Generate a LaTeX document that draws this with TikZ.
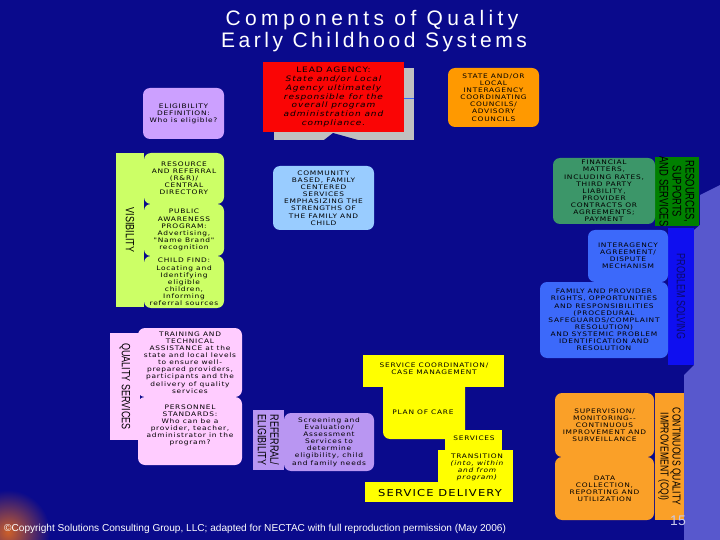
\documentclass[tikz,border=0pt]{standalone}
\usepackage{fontspec}
\setmainfont{Liberation Sans}
\newfontfamily\bxfont[FakeStretch=1.2,LetterSpace=12]{DejaVu Sans}
\newfontfamily\stripfont[FakeStretch=0.75]{Liberation Sans}
\newfontfamily\titlefont[LetterSpace=17]{Liberation Sans}
\newfontfamily\titlefontb[LetterSpace=21]{Liberation Sans}
\definecolor{bgc}{RGB}{10,10,140}
\definecolor{lightbg}{RGB}{88,88,205}
\definecolor{redc}{RGB}{250,5,5}
\definecolor{greyc}{RGB}{192,192,192}
\definecolor{orangec}{RGB}{255,153,0}
\definecolor{lavc}{RGB}{204,160,255}
\definecolor{limec}{RGB}{204,255,102}
\definecolor{skyc}{RGB}{153,204,255}
\definecolor{greenc}{RGB}{60,150,105}
\definecolor{dgreenc}{RGB}{0,128,0}
\definecolor{bluec}{RGB}{60,105,250}
\definecolor{bstripc}{RGB}{15,15,240}
\definecolor{pinkc}{RGB}{255,204,255}
\definecolor{refc}{RGB}{185,150,242}
\definecolor{yelc}{RGB}{255,255,0}
\definecolor{cqic}{RGB}{250,160,40}
\definecolor{numc}{RGB}{200,200,235}
\tikzset{
  box/.style={rounded corners=7pt, inner sep=0pt, align=center, text=black,
    font=\bxfont\fontsize{6.2}{7.1}\selectfont},
  band/.style={inner sep=0pt, align=center, text=black, rotate=-90,
    font=\stripfont\fontsize{12}{12.5}\selectfont},
  ybox/.style={inner sep=0pt, fill=yelc, align=center, text=black},
  ytext/.style={inner sep=0pt, align=center, text=black,
    font=\bxfont\fontsize{6.2}{7}\selectfont}
}
\begin{document}
\begin{tikzpicture}[x=1pt,y=-1pt]
\useasboundingbox (0,0) rectangle (720,540);
\fill[bgc] (0,0) rectangle (720,540);
% lighter background areas
\fill[lightbg] (700,195) -- (720,185) -- (720,540) -- (684,540) -- (684,375) -- (694,365) -- (694,230) -- (700,225) -- cycle;
\shade[inner color={rgb,255:red,205;green,95;blue,40}, outer color=bgc] (8,532) circle (42);
\fill[bgc] (50,490) rectangle (60,540);

% title
\node[text=white, font=\titlefontb\fontsize{21}{24}\selectfont, inner sep=0pt] (t1) at (372,20) {Components of Quality};
\node[text=white, font=\titlefont\fontsize{21}{24}\selectfont, inner sep=0pt] (t2) at (374,42) {Early Childhood Systems};

% lead agency
\node[fill=greyc, inner sep=0pt, minimum width=140pt, minimum height=72pt] (leadsh) at (344,104) {};
\draw[bluec, line width=0.8pt] (404,98) -- (414,98);
\fill[bgc] (333,133) -- (324,140) -- (358,140) -- cycle;
\node[fill=redc, inner sep=0pt, minimum width=141pt, minimum height=70pt, align=center, text=black,
  font=\bxfont\fontsize{7.5}{8.9}\selectfont] (lead) at (333.5,97)
  {LEAD AGENCY:\\ \itshape State and/or Local\\ \itshape Agency ultimately\\ \itshape responsible for the\\ \itshape overall program\\ \itshape administration and\\ \itshape compliance.};

\node[box, fill=orangec, minimum width=91pt, minimum height=59pt] (state) at (493.5,97.5)
  {STATE AND/OR\\LOCAL\\INTERAGENCY\\COORDINATING\\COUNCILS/\\ADVISORY\\COUNCILS};

\node[box, fill=lavc, minimum width=81pt, minimum height=51pt] (elig) at (183.5,113.5)
  {ELIGIBILITY\\DEFINITION:\\Who is eligible?};

% visibility
\node[band, fill=limec, minimum width=154pt, minimum height=28pt] (vis) at (130,230) {VISIBILITY};
\node[box, fill=limec, minimum width=80pt, minimum height=51pt] (rr) at (184,178.5)
  {RESOURCE\\AND REFERRAL\\(R\&R)/\\CENTRAL\\DIRECTORY};
\node[box, fill=limec, minimum width=80pt, minimum height=52pt] (pub) at (184,230)
  {PUBLIC\\AWARENESS\\PROGRAM:\\Advertising,\\"Name Brand"\\recognition};
\node[box, fill=limec, minimum width=80pt, minimum height=52pt] (cf) at (184,282)
  {CHILD FIND:\\Locating and\\Identifying\\eligible\\children,\\Informing\\referral sources};

\node[box, fill=skyc, minimum width=101pt, minimum height=64pt] (comm) at (323.5,198)
  {COMMUNITY\\BASED, FAMILY\\CENTERED\\SERVICES\\EMPHASIZING THE\\STRENGTHS OF\\THE FAMILY AND\\CHILD};

% resources
\node[band, fill=dgreenc, minimum width=67pt, minimum height=44pt, font=\stripfont\fontsize{12.5}{13}\selectfont] (rss) at (677,191.5)
  {RESOURCES,\\SUPPORTS\\AND SERVICES};
\node[box, fill=greenc, minimum width=102pt, minimum height=66pt] (fin) at (604,191)
  {FINANCIAL\\MATTERS,\\INCLUDING RATES,\\THIRD PARTY\\LIABILITY,\\PROVIDER\\CONTRACTS OR\\AGREEMENTS;\\PAYMENT};

% problem solving
\node[band, fill=bstripc, minimum width=137pt, minimum height=26pt, text={rgb,255:red,10;green,10;blue,110}] (ps) at (681,296.5) {PROBLEM SOLVING};
\node[box, fill=bluec, minimum width=80pt, minimum height=52pt] (inter) at (628,256)
  {INTERAGENCY\\AGREEMENT/\\DISPUTE\\MECHANISM};
\node[box, fill=bluec, minimum width=128pt, minimum height=76pt] (fam) at (604,320)
  {FAMILY AND PROVIDER\\RIGHTS, OPPORTUNITIES\\AND RESPONSIBILITIES\\(PROCEDURAL\\SAFEGUARDS/COMPLAINT\\RESOLUTION)\\AND SYSTEMIC PROBLEM\\IDENTIFICATION AND\\RESOLUTION};

% quality services
\node[band, fill=pinkc, minimum width=107pt, minimum height=30pt] (qs) at (125,386.5) {QUALITY SERVICES};
\node[box, fill=pinkc, minimum width=104pt, minimum height=69pt] (train) at (190,362.5)
  {TRAINING AND\\TECHNICAL\\ASSISTANCE at the\\state and local levels\\to ensure well-\\prepared providers,\\participants and the\\delivery of quality\\services};
\node[box, fill=pinkc, minimum width=104pt, minimum height=68pt] (pers) at (190,431)
  {PERSONNEL\\STANDARDS:\\Who can be a\\provider, teacher,\\administrator in the\\program?\\[6pt]};

% referral
\node[band, fill=refc, minimum width=60pt, minimum height=31pt] (ref) at (268.5,440) {REFERRAL/\\ELIGIBILITY};
\node[box, fill=refc, minimum width=90pt, minimum height=58pt] (scr) at (329,442)
  {Screening and\\Evaluation/\\Assessment\\Services to\\determine\\eligibility, child\\and family needs};

% service delivery (yellow)
\node[ybox, minimum width=141pt, minimum height=32pt] (sc) at (433.5,371) {};
\node[ybox, rounded corners=7pt, minimum width=82pt, minimum height=61pt] (poc) at (424,408.5) {};
\node[ybox, minimum width=57pt, minimum height=25pt] (serv) at (473.5,442.5) {};
\node[ybox, minimum width=75pt, minimum height=35pt] (trans) at (475.5,467.5) {};
\node[ybox, minimum width=148pt, minimum height=20pt] (sd) at (439,492) {};
\node[ytext] (sct) at (434,369) {SERVICE COORDINATION/\\CASE MANAGEMENT};
\node[ytext] (poct) at (423,412) {PLAN OF CARE};
\node[ytext] (servt) at (474,438) {SERVICES};
\node[ytext] (transt) at (477,467) {TRANSITION\\\itshape (into, within\\\itshape and from\\\itshape program)};
\node[ytext, font=\bxfont\fontsize{9.6}{10}\selectfont] (sdt) at (440,493) {SERVICE DELIVERY};

% CQI
\node[band, fill=cqic, minimum width=127pt, minimum height=29pt, font=\stripfont\fontsize{11.5}{12}\selectfont] (cqi) at (669.5,456.5)
  {CONTINUOUS QUALITY\\IMPROVEMENT (CQI)};
\node[box, fill=cqic, minimum width=99pt, minimum height=64pt] (sup) at (604.5,425)
  {SUPERVISION/\\MONITORING--\\CONTINUOUS\\IMPROVEMENT AND\\SURVEILLANCE};
\node[box, fill=cqic, minimum width=99pt, minimum height=63pt] (data) at (604.5,488.5)
  {DATA\\COLLECTION,\\REPORTING AND\\UTILIZATION};

% footer
\node[anchor=west, inner sep=0pt, text=white, font=\fontsize{10.1}{10.5}\selectfont] (copy) at (4,529)
  {\textcopyright Copyright Solutions Consulting Group, LLC; adapted for NECTAC with full reproduction permission (May 2006)};
\node[inner sep=0pt, text=numc, font=\fontsize{14}{15}\selectfont] (pg) at (678,521) {15};
\end{tikzpicture}
\end{document}
